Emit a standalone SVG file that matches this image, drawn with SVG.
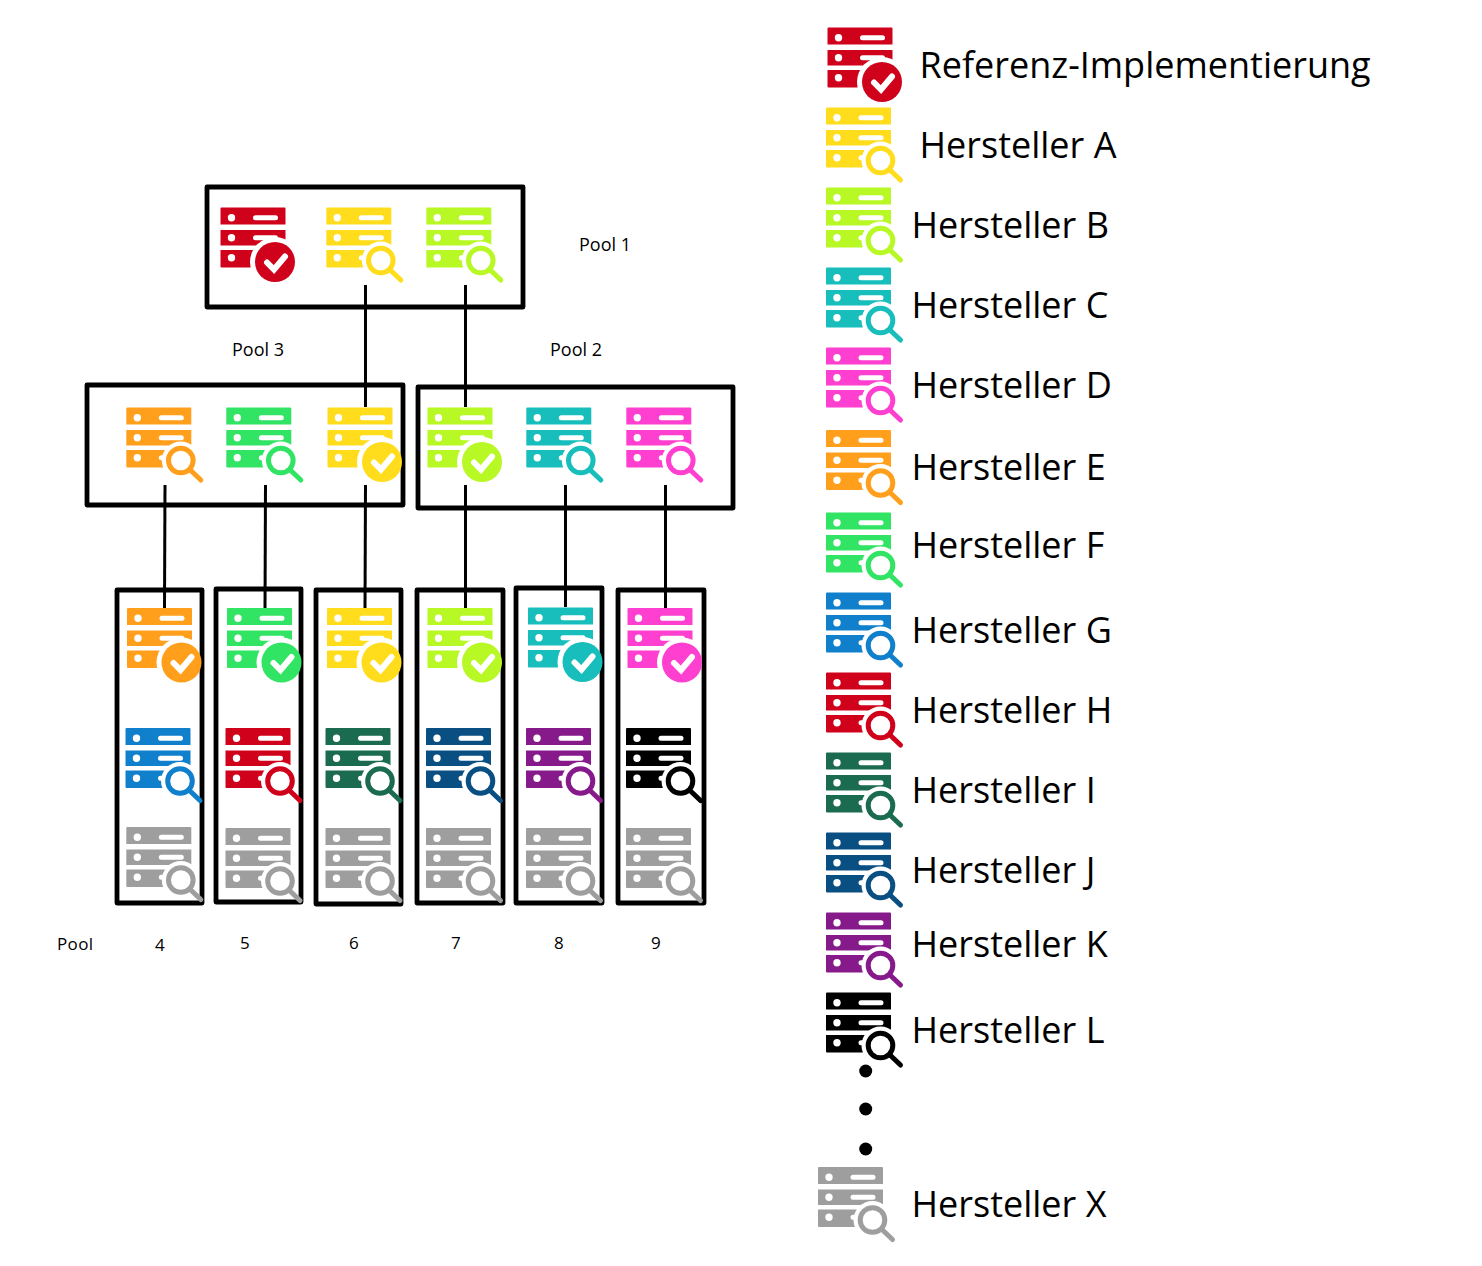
<svg xmlns="http://www.w3.org/2000/svg" xmlns:xlink="http://www.w3.org/1999/xlink" width="1482" height="1266" viewBox="0 0 1482 1266">
<style>
text{font-family:"Open Sans","Noto Sans","Liberation Sans",sans-serif;fill:#000}
.s{font-size:17px}.p{font-size:18px}.l{font-size:36px}
.box{fill:none;stroke:#000;stroke-width:4.800;stroke-linejoin:round}
.con{stroke:#000;stroke-width:3;fill:none}
.red{color:#d0021b}.yel{color:#ffdd1c}.lim{color:#b8f825}.tea{color:#17bebb}.pin{color:#ff3fd0}.ora{color:#ff9f1c}.gre{color:#32e463}.blu{color:#1080cc}.dgr{color:#1b6b50}.nav{color:#0a4f82}.pur{color:#861a8a}.bla{color:#000}.gra{color:#9e9e9e}
</style>
<defs>
<mask id="mc" maskUnits="userSpaceOnUse" x="-5" y="-5" width="100" height="100"><rect x="-5" y="-5" width="100" height="100" fill="#fff"/><circle cx="54.5" cy="54.5" r="25" fill="#000"/></mask>
<mask id="ms" maskUnits="userSpaceOnUse" x="-5" y="-5" width="100" height="100"><rect x="-5" y="-5" width="100" height="100" fill="#fff"/><circle cx="54.5" cy="53" r="19" fill="#000"/></mask>
<symbol id="bars" overflow="visible" viewBox="0 0 80 80" width="80" height="80">
<path fill="currentColor" fill-rule="evenodd" d="M1 0H64a1 1 0 0 1 1 1V17H0V1a1 1 0 0 1 1-1ZM11 6.500a3.700 3.700 0 1 0 0 7.400a3.700 3.700 0 1 0 0-7.400ZM35 7.700a2.500 2.500 0 0 0 0 5H55a2.500 2.500 0 0 0 0-5Z"/>
<path fill="currentColor" fill-rule="evenodd" d="M0 22.500H65V38H0ZM11 26.500a3.700 3.700 0 1 0 0 7.400a3.700 3.700 0 1 0 0-7.400ZM35 27.700a2.500 2.500 0 0 0 0 5H55a2.500 2.500 0 0 0 0-5Z"/>
<path fill="currentColor" fill-rule="evenodd" d="M0 42.500H65V59a1 1 0 0 1-1 1H1a1 1 0 0 1-1-1ZM11 46.500a3.700 3.700 0 1 0 0 7.400a3.700 3.700 0 1 0 0-7.400ZM35 47.700a2.500 2.500 0 0 0 0 5H55a2.500 2.500 0 0 0 0-5Z"/>
</symbol>
<symbol id="check" overflow="visible" viewBox="0 0 80 80" width="80" height="80">
<use xlink:href="#bars" href="#bars" mask="url(#mc)"/>
<circle cx="54.500" cy="54.500" r="20" fill="currentColor"/>
<path d="M46.500 55L53.500 62L64.500 49" fill="none" stroke="#fff" stroke-width="6" stroke-linecap="round" stroke-linejoin="miter"/>
</symbol>
<symbol id="search" overflow="visible" viewBox="0 0 80 80" width="80" height="80">
<use xlink:href="#bars" href="#bars" mask="url(#ms)"/>
<circle cx="54.500" cy="53" r="12.300" fill="none" stroke="currentColor" stroke-width="5"/>
<path d="M64 62.500L74.500 72.500" fill="none" stroke="currentColor" stroke-width="5" stroke-linecap="round"/>
</symbol>
</defs>
<g id="pool-boxes">
<rect id="pool1" class="box" x="207" y="187" width="316" height="120"/>
<rect id="pool3" class="box" x="87" y="385" width="316" height="120"/>
<rect id="pool2" class="box" x="418" y="387" width="315" height="121"/>
<rect id="pool4" class="box" x="117" y="590" width="85" height="313"/>
<rect id="pool5" class="box" x="216" y="589" width="85" height="313"/>
<rect id="pool6" class="box" x="316" y="590" width="85" height="314"/>
<rect id="pool7" class="box" x="417" y="590" width="86" height="313"/>
<rect id="pool8" class="box" x="516" y="588" width="86" height="315"/>
<rect id="pool9" class="box" x="618" y="590" width="86" height="313"/>
</g>
<g id="connectors">
<path class="con" d="M365.500 285V407"/>
<path class="con" d="M465.500 285V407"/>
<path class="con" d="M165 485L164.500 608"/>
<path class="con" d="M265.500 485L265 608"/>
<path class="con" d="M365.500 485L365 608"/>
<path class="con" d="M465.500 485V608"/>
<path class="con" d="M565.500 485V607"/>
<path class="con" d="M665.500 485V608"/>
</g>
<g id="n1a" class="red"><use href="#check" x="220.500" y="207.500"/></g>
<g id="n1b" class="yel"><use href="#search" x="326.300" y="207.500"/></g>
<g id="n1c" class="lim"><use href="#search" x="426.300" y="207.500"/></g>
<g id="n3a" class="ora"><use href="#search" x="126.300" y="407.500"/></g>
<g id="n3b" class="gre"><use href="#search" x="226.300" y="407.500"/></g>
<g id="n3c" class="yel"><use href="#check" x="327.500" y="407.500"/></g>
<g id="n2a" class="lim"><use href="#check" x="427.500" y="407.500"/></g>
<g id="n2b" class="tea"><use href="#search" x="526.300" y="407.500"/></g>
<g id="n2c" class="pin"><use href="#search" x="626.300" y="407.500"/></g>
<g id="n4a" class="ora"><use href="#check" x="127" y="608"/></g>
<g id="n5a" class="gre"><use href="#check" x="227" y="608"/></g>
<g id="n6a" class="yel"><use href="#check" x="327" y="608"/></g>
<g id="n7a" class="lim"><use href="#check" x="427.500" y="608"/></g>
<g id="n8a" class="tea"><use href="#check" x="528" y="607.500"/></g>
<g id="n9a" class="pin"><use href="#check" x="627.500" y="608"/></g>
<g id="n4b" class="blu"><use href="#search" x="125.500" y="728"/></g>
<g id="n5b" class="red"><use href="#search" x="225.500" y="728"/></g>
<g id="n6b" class="dgr"><use href="#search" x="325.500" y="728"/></g>
<g id="n7b" class="nav"><use href="#search" x="426" y="728"/></g>
<g id="n8b" class="pur"><use href="#search" x="526" y="728"/></g>
<g id="n9b" class="bla"><use href="#search" x="626" y="728"/></g>
<g id="n4c" class="gra"><use href="#search" x="126.300" y="827"/></g>
<g id="n5c" class="gra"><use href="#search" x="225.500" y="828"/></g>
<g id="n6c" class="gra"><use href="#search" x="325.500" y="828"/></g>
<g id="n7c" class="gra"><use href="#search" x="426" y="828"/></g>
<g id="n8c" class="gra"><use href="#search" x="526" y="828"/></g>
<g id="n9c" class="gra"><use href="#search" x="626" y="828"/></g>
<g id="pool-labels">
<text class="p" x="579" y="251">Pool 1</text>
<text class="p" x="232" y="356">Pool 3</text>
<text class="p" x="550" y="356">Pool 2</text>
<text class="s" x="57" y="950" textLength="36">Pool</text>
<text class="s" x="155" y="951">4</text>
<text class="s" x="240" y="949">5</text>
<text class="s" x="349" y="949">6</text>
<text class="s" x="451" y="949">7</text>
<text class="s" x="554" y="949">8</text>
<text class="s" x="651" y="949">9</text>
</g>
<g id="legend-ref" class="red"><use href="#check" x="827.500" y="27.500"/><text class="l" x="919.500" y="78">Referenz-Implementierung</text></g>
<g id="legend-a" class="yel"><use href="#search" x="826" y="107.500"/><text class="l" x="919.500" y="158">Hersteller A</text></g>
<g id="legend-b" class="lim"><use href="#search" x="826" y="187.500"/><text class="l" x="911.500" y="238">Hersteller B</text></g>
<g id="legend-c" class="tea"><use href="#search" x="826" y="267.500"/><text class="l" x="911.500" y="318">Hersteller C</text></g>
<g id="legend-d" class="pin"><use href="#search" x="826" y="347.500"/><text class="l" x="911.500" y="398">Hersteller D</text></g>
<g id="legend-e" class="ora"><use href="#search" x="826" y="430"/><text class="l" x="911.500" y="480">Hersteller E</text></g>
<g id="legend-f" class="gre"><use href="#search" x="826" y="512.500"/><text class="l" x="911.500" y="558">Hersteller F</text></g>
<g id="legend-g" class="blu"><use href="#search" x="826" y="592.500"/><text class="l" x="911.500" y="643">Hersteller G</text></g>
<g id="legend-h" class="red"><use href="#search" x="826" y="672.500"/><text class="l" x="911.500" y="723">Hersteller H</text></g>
<g id="legend-i" class="dgr"><use href="#search" x="826" y="752.500"/><text class="l" x="911.500" y="803">Hersteller I</text></g>
<g id="legend-j" class="nav"><use href="#search" x="826" y="832.500"/><text class="l" x="911.500" y="883">Hersteller J</text></g>
<g id="legend-k" class="pur"><use href="#search" x="826" y="912.500"/><text class="l" x="911.500" y="957">Hersteller K</text></g>
<g id="legend-l" class="bla"><use href="#search" x="826" y="992.500"/><text class="l" x="911.500" y="1043">Hersteller L</text></g>
<g id="legend-dots"><circle cx="865.700" cy="1071" r="6.500"/><circle cx="865.700" cy="1109" r="6.500"/><circle cx="865.700" cy="1149" r="6.500"/></g>
<g id="legend-x" class="gra"><use href="#search" x="818" y="1167"/><text class="l" x="911.500" y="1217">Hersteller X</text></g>
</svg>
